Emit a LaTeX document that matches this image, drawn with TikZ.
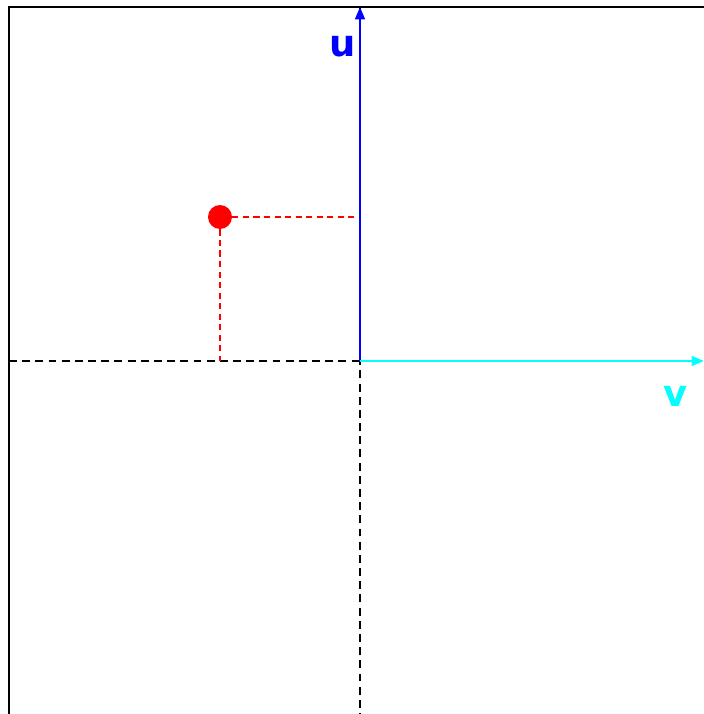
\documentclass[tikz,border=0pt]{standalone}
\usepackage{fontspec}
\setmainfont{DejaVu Sans}
\usepackage{tikz}
\usetikzlibrary{arrows.meta}
\definecolor{ucol}{RGB}{0,0,255}
\definecolor{vcol}{RGB}{0,255,255}
\definecolor{pcol}{RGB}{255,0,0}

\begin{document}
\begin{tikzpicture}[axis/.style={black,line width=1.3pt,dash pattern=on 4.5pt off 3pt},
                    guide/.style={pcol,line width=0.9pt,dash pattern=on 3.5pt off 2.5pt},
                    vec/.style={line width=1.3pt,-{Triangle[length=7pt,width=5.5pt]}},
                    lbl/.style={font=\fontsize{21}{24}\selectfont\bfseries}]
\useasboundingbox (-7.2,-7.06) rectangle (6.88,7.22);
\clip (-7.2,-7.06) rectangle (6.88,7.22);
\draw[line width=1.3pt] (-7.02,-8) rectangle (8,7.08);
\coordinate (o)  at (0,0);
\coordinate (lt) at (-7.02,0);
\coordinate (bt) at (0,-7.2);
\coordinate (tp) at (0,7.08);
\coordinate (rt) at (6.88,0);
\node[circle,fill=pcol,inner sep=0pt,minimum size=0.48cm] (p) at (-2.8,2.88) {};
\coordinate (px) at (-2.8,0);
\coordinate (py) at (0,2.88);
\draw[axis] (lt) -- (rt);
\draw[axis] (bt) -- (tp);
\draw[guide] (p) -- (px);
\draw[guide] (p) -- (py);
\draw[vec,ucol] (o) -- (tp);
\draw[vec,vcol] (o) -- (rt);
\node[lbl,ucol] (u) at (-0.34,6.28) {u};
\node[lbl,vcol] (v) at (6.32,-0.7) {v};
\end{tikzpicture}
\end{document}
